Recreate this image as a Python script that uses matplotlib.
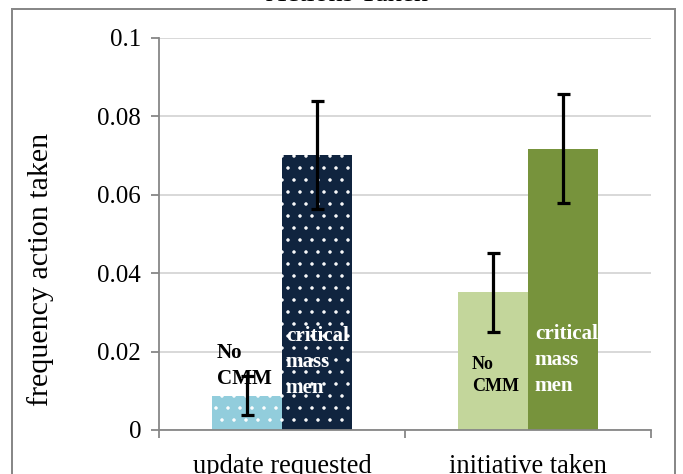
import numpy as np
import matplotlib
matplotlib.use("Agg")
import matplotlib.pyplot as plt
from matplotlib.patches import Rectangle

# Frequency of each action, by group (No CMM vs. critical mass men)
categories = ["update requested", "initiative taken"]
no_cmm = [0.0087, 0.0351]
no_cmm_err = [0.0050, 0.0100]
cmm = [0.0702, 0.0718]
cmm_err = [0.0137, 0.0140]
title = "Actions Taken"
ylabel = "frequency action taken"

light_colors = ["#92CDDC", "#C3D69B"]
dark_colors = ["#10243F", "#77933C"]
light_hatch = [".", None]
dark_hatch = [".", None]

plt.rcParams["font.family"] = ["Liberation Serif", "DejaVu Serif"]
plt.rcParams["hatch.linewidth"] = 1.0

# 72 dpi so that one point is one pixel
DPI = 72
W, H = 683, 474
fig = plt.figure(figsize=(W / DPI, H / DPI), dpi=DPI)
ax = fig.add_axes([159 / W, 44 / H, 492 / W, 392 / H])

x = np.arange(len(categories))
w = 0.285
for i in range(len(categories)):
    ax.bar(x[i] - w / 2, no_cmm[i], w, color=light_colors[i], hatch=light_hatch[i],
           edgecolor="white", linewidth=0, zorder=2)
    ax.bar(x[i] + w / 2, cmm[i], w, color=dark_colors[i], hatch=dark_hatch[i],
           edgecolor="white", linewidth=0, zorder=2)

err_style = dict(fmt="none", ecolor="black", elinewidth=3.2, capsize=6.5,
                 capthick=3.2, zorder=4)
ax.errorbar(x - w / 2, no_cmm, yerr=no_cmm_err, **err_style)
ax.errorbar(x + w / 2, cmm, yerr=cmm_err, **err_style)

# in-bar group labels
bold = dict(fontweight="bold", ha="left", va="center", zorder=5)
ax.text(-0.264, 0.0163, "No\nCMM", color="black", fontsize=21, linespacing=1.35, **bold)
ax.text(0.016, 0.0173, "critical\nmass\nmen", color="white", fontsize=21, linespacing=1.4, **bold)
ax.text(0.772, 0.0139, "No\nCMM", color="black", fontsize=18, linespacing=1.35, **bold)
ax.text(1.028, 0.0179, "critical\nmass\nmen", color="white", fontsize=21, linespacing=1.4, **bold)

ax.set_xlim(-0.5, 1.5)
ax.set_ylim(0, 0.1)
ax.set_yticks([0, 0.02, 0.04, 0.06, 0.08, 0.1])
ax.set_yticklabels(["0", "0.02", "0.04", "0.06", "0.08", "0.1"])
ax.set_xticks(x)
ax.set_xticklabels(categories)
ax.set_xticks([-0.5, 0.5, 1.5], minor=True)
ax.tick_params(axis="x", which="major", length=0, labelsize=26.5, pad=24)
ax.tick_params(axis="x", which="minor", length=8, width=1.8, color="#868686")
ax.tick_params(axis="y", length=8, width=1.8, color="#868686", labelsize=25, pad=10)

ax.grid(axis="y", color="#D9D9D9", linewidth=2, zorder=0)
ax.set_axisbelow(True)
for side in ["top", "right"]:
    ax.spines[side].set_visible(False)
for side in ["left", "bottom"]:
    ax.spines[side].set_color("#868686")
    ax.spines[side].set_linewidth(1.8)

ax.set_ylabel(ylabel, fontsize=30)
ax.yaxis.set_label_coords(-0.213, 0.41)

# chart frame and title (title runs off the top edge)
fig.patches.append(Rectangle((12 / W, -0.05), 663 / W, 1.05 - 9 / H,
                             transform=fig.transFigure, fill=False,
                             edgecolor="#888888", linewidth=2))
fig.text(347 / W, 1 - 1 / H, title, ha="center", va="baseline", fontsize=28)

fig.savefig("out.png", dpi=DPI)
